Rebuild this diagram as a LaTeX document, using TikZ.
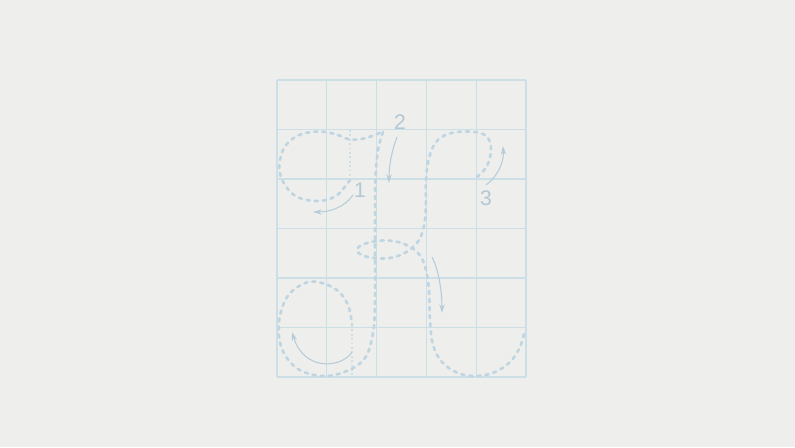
\documentclass[tikz,border=0pt]{standalone}
\usepackage{fontspec}
\setmainfont{Liberation Sans}
\usetikzlibrary{arrows.meta}
\definecolor{bgc}{HTML}{EEEEEC}
\definecolor{gridc}{HTML}{CCDEE6}
\definecolor{strokec}{HTML}{BFD5E1}
\definecolor{arrowc}{HTML}{B6CCD8}
\definecolor{numc}{HTML}{B2C8D5}
\begin{document}
\begin{tikzpicture}[x=0.02cm,y=-0.02cm,
  gridline/.style={draw=gridc,line width=0.6pt},
  tracestroke/.style={draw=strokec,line width=1.5pt,dash pattern=on 1.8pt off 2.8pt,line cap=round},
  guideline/.style={draw=gridc,line width=0.6pt,dash pattern=on 1pt off 1.5pt},
  hintarrow/.style={draw=arrowc,line width=0.6pt,-{Stealth[length=5pt,width=3pt]}},
  numlabel/.style={text=numc,font=\fontsize{12}{14}\selectfont,inner sep=0pt}]
\fill[bgc] (0,0) rectangle (795,447);
\useasboundingbox (0,0) rectangle (795,447);
% grid
\foreach \i in {0,...,5} {
  \draw[gridline] ({277+49.8*\i},80) -- ({277+49.8*\i},377);
}
\foreach \j in {0,...,6} {
  \draw[gridline] (277,{80+49.5*\j}) -- (526,{80+49.5*\j});
}
% guide dotted lines
\draw[guideline] (350,130) -- (350,180);
\draw[guideline] (352,325) -- (352,377);
% stroke 1
\draw[tracestroke] plot[smooth,tension=0.6] coordinates {
 (350,180) (336,196) (317,201) (294,195) (280,174) (283,150) (297,136) (317,131.5) (335,134) (350,139.5) (366,138) (383,131.5)};
% stroke 2
\draw[tracestroke] plot[smooth,tension=0.6] coordinates {
 (383,132) (378,150) (375.5,180) (375,230) (375,300) (373,333) (365,358) (347,371) (323,376) (298,369) (282,349) (279,322) (287,297) (303,284) (318,282) (337,290) (348,305) (352,324)};
% stroke 3
\draw[tracestroke] plot[smooth,tension=0.6] coordinates {
 (477,177) (487,166) (491,150) (488,138) (480,133) (465,131.5) (448,134) (436,142) (429,158) (426,180) (425.5,215) (421,236) (412,248) (398,256) (382,258.5) (364,256) (357,250) (364,244) (382,240.5) (398,242) (412,248) (421,257) (426,270) (429,290) (430,320) (433,345) (442,362) (458,373) (477,376) (495,372) (510,362) (520,347) (525,330)};
% hint arrows
\draw[hintarrow] (353,195) .. controls (345,207) and (330,212) .. (313,212);
\draw[hintarrow] (397,137) .. controls (392,150) and (389,165) .. (389,183);
\draw[hintarrow] (486,185) .. controls (498,176) and (504,162) .. (503,146);
\draw[hintarrow] (432,257) .. controls (438,268) and (442,290) .. (442,313);
\draw[hintarrow] (352,352) .. controls (342,368) and (304,372) .. (292,332);
% numbers
\node[numlabel] (n1) at (360,190) {1};
\node[numlabel] (n2) at (400,122) {2};
\node[numlabel] (n3) at (486,198) {3};
\end{tikzpicture}
\end{document}
